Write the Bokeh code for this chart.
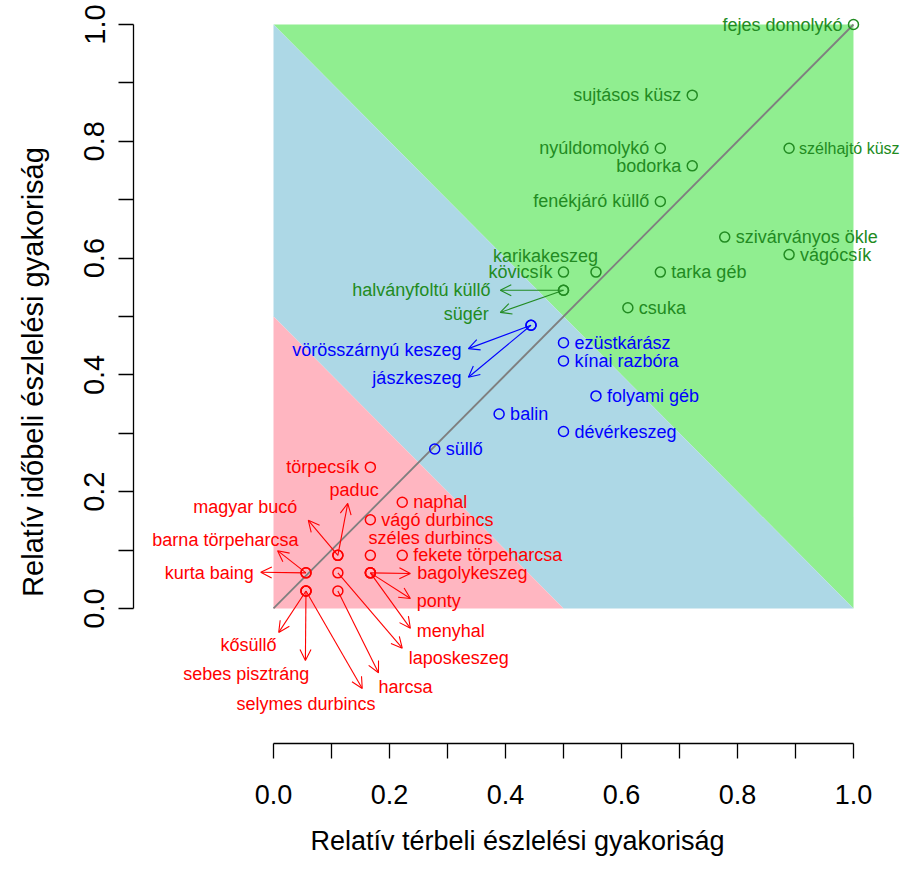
from bokeh.plotting import figure
from bokeh.models import (Range1d, LinearAxis, FixedTicker, ColumnDataSource, Arrow,
                          OpenHead, PrintfTickFormatter)
from bokeh.embed import file_html
from bokeh.resources import INLINE
from bokeh.core.properties import value

# ---------------- data ----------------
names = ["fejes domolykó", "sujtásos küsz", "nyúldomolykó", "bodorka", "szélhajtó küsz",
         "fenékjáró küllő", "szivárványos ökle", "vágócsík", "kövicsík", "karikakeszeg",
         "tarka géb", "csuka", "halványfoltú küllő", "sügér",
         "vörösszárnyú keszeg", "jászkeszeg", "ezüstkárász", "kínai razbóra", "folyami géb",
         "balin", "dévérkeszeg", "süllő",
         "törpecsík", "naphal", "vágó durbincs", "széles durbincs", "fekete törpeharcsa",
         "paduc", "magyar bucó", "kurta baing", "barna törpeharcsa", "bagolykeszeg", "ponty",
         "menyhal", "laposkeszeg", "harcsa", "kősüllő", "sebes pisztráng", "selymes durbincs"]
spatial = [1.0, 0.722, 0.667, 0.722, 0.889,
           0.667, 0.778, 0.889, 0.5, 0.556,
           0.667, 0.611, 0.5, 0.5,
           0.444, 0.444, 0.5, 0.5, 0.556,
           0.389, 0.5, 0.278,
           0.167, 0.222, 0.167, 0.167, 0.222,
           0.111, 0.111, 0.056, 0.056, 0.167, 0.167,
           0.167, 0.111, 0.111, 0.056, 0.056, 0.056]
temporal = [1.0, 0.879, 0.788, 0.758, 0.788,
            0.697, 0.636, 0.606, 0.576, 0.576,
            0.576, 0.515, 0.545, 0.545,
            0.485, 0.485, 0.455, 0.424, 0.364,
            0.333, 0.303, 0.273,
            0.242, 0.182, 0.152, 0.091, 0.091,
            0.091, 0.091, 0.061, 0.061, 0.061, 0.061,
            0.061, 0.061, 0.030, 0.030, 0.030, 0.030]
groups = ["g"] * 14 + ["b"] * 8 + ["r"] * 17

group_colors = {"g": "#228B22", "b": "#0000FF", "r": "#FF0000"}

# zone polygons (x + y thresholds 0.5 and 1)
zone_green_x = [0, 1, 1]
zone_green_y = [1, 1, 0]
zone_blue_x = [0, 0, 1, 0.5]
zone_blue_y = [0.5, 1, 0, 0]
zone_red_x = [0, 0, 0.5]
zone_red_y = [0, 0.5, 0]

x_major = [0.0, 0.2, 0.4, 0.6, 0.8, 1.0]
x_minor = [0.1, 0.3, 0.5, 0.7, 0.9]

# ---------------- label layout ----------------
# side labels: name -> "left"/"right" of the point
side = {
    "fejes domolykó": "left", "sujtásos küsz": "left", "nyúldomolykó": "left",
    "bodorka": "left", "szélhajtó küsz": "right", "fenékjáró küllő": "left",
    "szivárványos ökle": "right", "vágócsík": "right", "kövicsík": "left",
    "tarka géb": "right", "csuka": "right", "ezüstkárász": "right",
    "kínai razbóra": "right", "folyami géb": "right", "balin": "right",
    "dévérkeszeg": "right", "süllő": "right", "törpecsík": "left", "naphal": "right",
    "vágó durbincs": "right", "fekete törpeharcsa": "right",
}
# free labels: name -> (label x, label y, align)
free = {
    "karikakeszeg": (0.469, 0.603, "center"),
    "széles durbincs": (0.164, 0.121, "left"),
}
# arrow labels: name -> (arrow tip x, tip y, label x, label y, align)
arrowed = {
    "halványfoltú küllő": (0.391, 0.545, 0.374, 0.545, "right"),
    "sügér": (0.391, 0.507, 0.371, 0.505, "right"),
    "vörösszárnyú keszeg": (0.336, 0.445, 0.324, 0.442, "right"),
    "jászkeszeg": (0.336, 0.396, 0.324, 0.394, "right"),
    "paduc": (0.128, 0.180, 0.139, 0.203, "center"),
    "magyar bucó": (0.060, 0.151, 0.041, 0.173, "right"),
    "kurta baing": (-0.022, 0.062, -0.034, 0.060, "right"),
    "barna törpeharcsa": (0.007, 0.099, 0.043, 0.118, "right"),
    "bagolykeszeg": (0.236, 0.060, 0.248, 0.060, "left"),
    "ponty": (0.236, 0.017, 0.247, 0.012, "left"),
    "menyhal": (0.236, -0.034, 0.247, -0.038, "left"),
    "laposkeszeg": (0.222, -0.068, 0.233, -0.084, "left"),
    "harcsa": (0.181, -0.110, 0.181, -0.134, "left"),
    "kősüllő": (0.009, -0.041, -0.043, -0.062, "center"),
    "sebes pisztráng": (0.055, -0.089, -0.047, -0.113, "center"),
    "selymes durbincs": (0.153, -0.137, 0.056, -0.163, "center"),
}
# labels that must be a little smaller to stay inside the page
small_labels = {"szélhajtó küsz": "16px"}

FONT = "Liberation Sans"

p = figure(width=901, height=858,
           x_range=Range1d(-0.2414, 1.0828), y_range=Range1d(-0.2312, 1.0411),
           x_axis_type=None, y_axis_type=None,
           output_backend="svg", toolbar_location=None,
           min_border_left=133, min_border_right=0, min_border_top=0, min_border_bottom=115,
           outline_line_color=None, background_fill_color="white", border_fill_color="white")

p.patch(zone_green_x, zone_green_y, fill_color="#90EE90", line_color=None)
p.patch(zone_blue_x, zone_blue_y, fill_color="#ADD8E6", line_color=None)
p.patch(zone_red_x, zone_red_y, fill_color="#FFB6C1", line_color=None)

p.line([0, 1], [0, 1], line_color="#7F7F7F", line_width=1.8)

colors = [group_colors[g] for g in groups]
p.scatter(spatial, temporal, marker="circle", size=10, fill_color=None,
          line_color=colors, line_width=1.5)

# arrows
for g in ["g", "b", "r"]:
    xs, ys, xe, ye = [], [], [], []
    for n, x, y, gg in zip(names, spatial, temporal, groups):
        if gg == g and n in arrowed:
            tx, ty = arrowed[n][0], arrowed[n][1]
            xs.append(x); ys.append(y); xe.append(tx); ye.append(ty)
    if xs:
        src = ColumnDataSource(dict(xs=xs, ys=ys, xe=xe, ye=ye))
        p.add_layout(Arrow(source=src, x_start="xs", y_start="ys", x_end="xe", y_end="ye",
                           line_color=group_colors[g], line_width=1.1,
                           end=OpenHead(size=11, line_color=group_colors[g], line_width=1.1)))

# labels
lx, ly, lt, lc, la, lo, lf = [], [], [], [], [], [], []
for n, x, y, g in zip(names, spatial, temporal, groups):
    if n in side:
        lx.append(x); ly.append(y)
        la.append("right" if side[n] == "left" else "left")
        off = 11 if n not in small_labels else 10
        lo.append(-off if side[n] == "left" else off)
    elif n in free:
        fx, fy, fa = free[n]
        lx.append(fx); ly.append(fy); la.append(fa); lo.append(0)
    else:
        a = arrowed[n]
        lx.append(a[2]); ly.append(a[3]); la.append(a[4]); lo.append(0)
    lt.append(n); lc.append(group_colors[g]); lf.append(small_labels.get(n, "18px"))
lsrc = ColumnDataSource(dict(x=lx, y=ly, text=lt, color=lc, align=la, off=lo, fs=lf))
p.text(x="x", y="y", text="text", source=lsrc, text_color="color", text_align="align",
       x_offset="off", text_baseline="middle", text_font=value(FONT),
       text_font_size="fs")

# axes
def style_axis(ax, fsize):
    ax.axis_line_color = "black"
    ax.axis_line_width = 1.3
    ax.major_tick_line_color = "black"
    ax.minor_tick_line_color = "black"
    ax.major_tick_line_width = 1.3
    ax.minor_tick_line_width = 1.3
    ax.major_tick_out = 15
    ax.major_tick_in = 0
    ax.minor_tick_out = 15
    ax.minor_tick_in = 0
    ax.major_label_text_font = FONT
    ax.major_label_text_font_size = fsize
    ax.major_label_text_color = "black"
    ax.axis_label_text_font = FONT
    ax.axis_label_text_font_size = fsize
    ax.axis_label_text_font_style = "normal"
    ax.axis_label_text_color = "black"
    ax.formatter = PrintfTickFormatter(format="%.1f")

xaxis = LinearAxis(bounds=(0, 1), ticker=FixedTicker(ticks=x_major, minor_ticks=x_minor),
                   axis_label="Relatív térbeli észlelési gyakoriság")
style_axis(xaxis, "27px")
xaxis.major_label_standoff = 26
xaxis.axis_label_standoff = 19
p.add_layout(xaxis, "below")

yaxis = LinearAxis(bounds=(0, 1), ticker=FixedTicker(ticks=x_major, minor_ticks=x_minor),
                   axis_label="Relatív időbeli észlelési gyakoriság")
style_axis(yaxis, "29px")
yaxis.major_label_orientation = "vertical"
yaxis.major_label_standoff = 14
yaxis.axis_label_standoff = 33
p.add_layout(yaxis, "left")

open("out.html", "w").write(file_html(p, INLINE))
